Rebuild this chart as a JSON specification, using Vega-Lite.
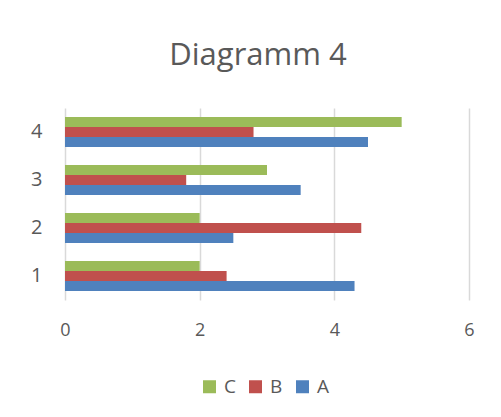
{
  "$schema": "https://vega.github.io/schema/vega-lite/v6.json",
  "width": 404,
  "height": 192,
  "autosize": "none",
  "padding": {"left": 65, "top": 108, "right": 32, "bottom": 117},
  "background": "white",
  "title": {
    "text": "Diagramm 4",
    "font": "Open Sans",
    "fontSize": 31,
    "fontWeight": "normal",
    "color": "#595959",
    "anchor": "middle",
    "baseline": "alphabetic",
    "offset": 12,
    "dx": -9
  },
  "data": {
    "values": [
      {"cat": "1", "series": "A", "value": 4.3},
      {"cat": "1", "series": "B", "value": 2.4},
      {"cat": "1", "series": "C", "value": 2},
      {"cat": "2", "series": "A", "value": 2.5},
      {"cat": "2", "series": "B", "value": 4.4},
      {"cat": "2", "series": "C", "value": 2},
      {"cat": "3", "series": "A", "value": 3.5},
      {"cat": "3", "series": "B", "value": 1.8},
      {"cat": "3", "series": "C", "value": 3},
      {"cat": "4", "series": "A", "value": 4.5},
      {"cat": "4", "series": "B", "value": 2.8},
      {"cat": "4", "series": "C", "value": 5}
    ]
  },
  "mark": {"type": "bar", "cornerRadius": 0},
  "encoding": {
    "y": {
      "field": "cat",
      "type": "nominal",
      "sort": ["4", "3", "2", "1"],
      "scale": {"paddingInner": 0.375, "paddingOuter": 0.1875},
      "axis": {
        "title": null,
        "domain": false,
        "ticks": false,
        "grid": false,
        "labelFont": "Open Sans",
        "labelFontSize": 20,
        "labelColor": "#595959",
        "labelPadding": 23
      }
    },
    "yOffset": {
      "field": "series",
      "type": "nominal",
      "sort": ["C", "B", "A"],
      "scale": {"paddingInner": 0, "paddingOuter": 0}
    },
    "x": {
      "field": "value",
      "type": "quantitative",
      "scale": {"domain": [0, 6], "nice": false},
      "axis": {
        "title": null,
        "values": [0, 2, 4, 6],
        "domain": false,
        "ticks": false,
        "grid": true,
        "gridColor": "#d9d9d9",
        "gridWidth": 1.5,
        "labelFlush": false,
        "labelFont": "Open Sans",
        "labelFontSize": 18,
        "labelColor": "#595959",
        "labelPadding": 21
      }
    },
    "color": {
      "field": "series",
      "type": "nominal",
      "scale": {"domain": ["C", "B", "A"], "range": ["#9bbb59", "#c0504d", "#4f81bd"]},
      "legend": {
        "title": null,
        "orient": "none",
        "direction": "horizontal",
        "legendX": 135,
        "legendY": 269,
        "symbolType": "square",
        "symbolSize": 169,
        "symbolStrokeWidth": 0,
        "labelFont": "Open Sans",
        "labelFontSize": 19,
        "labelColor": "#595959",
        "labelOffset": 5,
        "columnPadding": 10
      }
    }
  },
  "config": {
    "view": {"stroke": null}
  }
}
